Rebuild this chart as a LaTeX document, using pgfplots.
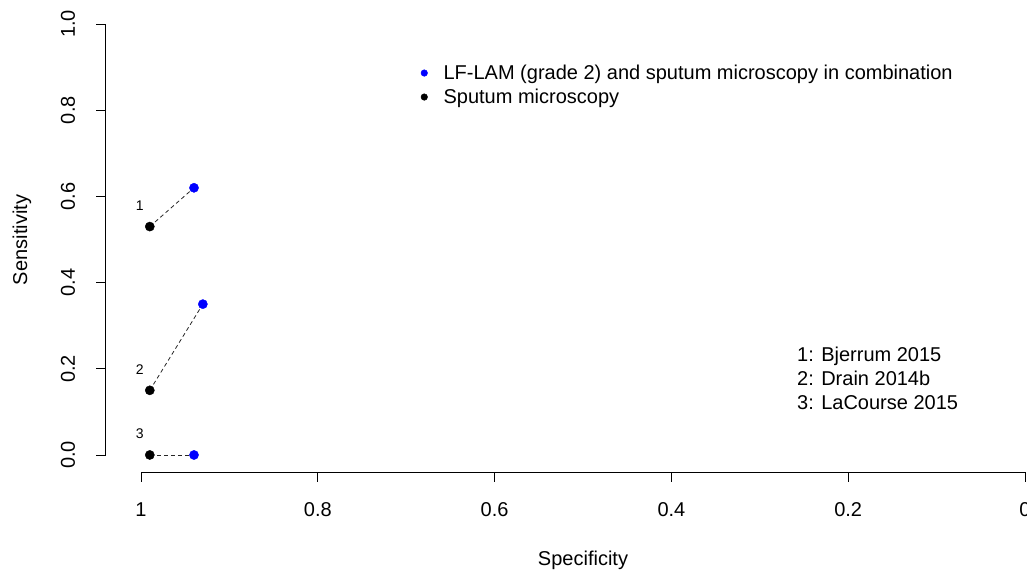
\documentclass[border=0pt]{standalone}
\usepackage{pgfplots}
\usepackage{pgfplotstable}
\pgfplotsset{compat=1.18}
\usepackage{fontspec}
\setmainfont{Liberation Sans}

% Sensitivity / specificity pairs per study
\pgfplotstableread{
spec sens label
0.99 0.53 1
0.99 0.15 2
0.99 0.00 3
}\smear
\pgfplotstableread{
spec sens
0.94 0.62
0.93 0.35
0.94 0.00
}\combo

\begin{document}
\begin{tikzpicture}[x=1pt,y=1pt]
\path[use as bounding box] (0,0) rectangle (1027,571);
\begin{axis}[
  at={(105.6pt,98.8pt)}, anchor=south west,
  width=954.8pt, height=465.4pt, scale only axis,
  xmin=-0.04, xmax=1.04, ymin=-0.04, ymax=1.04,
  x dir=reverse,
  hide axis, clip=false,
  legend style={at={(0.3301,0.877)}, anchor=north west, draw=none, fill=none,
    inner sep=0pt, outer sep=0pt, row sep=4pt, column sep=15.8pt,
    font=\fontsize{20}{24}\selectfont,
    nodes={inner sep=0pt, text height=15pt, text depth=5pt}},
  legend cell align=left,
]
% dashed links between the paired estimates of each study
\addplot[forget plot, black!85, dashed, dash pattern=on 4pt off 3pt, line width=0.8pt] coordinates {(0.99,0.53) (0.94,0.62)};
\addplot[forget plot, black!85, dashed, dash pattern=on 4pt off 3pt, line width=0.8pt] coordinates {(0.99,0.15) (0.93,0.35)};
\addplot[forget plot, black!85, dashed, dash pattern=on 4pt off 3pt, line width=0.8pt] coordinates {(0.99,0.00) (0.94,0.00)};

\addplot[only marks, mark=*, mark size=4.6pt, color=blue,
  legend image code/.code={\fill[blue] (0pt,1pt) circle (3.3pt);}]
  table[x=spec, y=sens] {\combo};
\addlegendentry{LF-LAM (grade 2) and sputum microscopy in combination}

\addplot[only marks, mark=*, mark size=4.6pt, color=black,
  nodes near coords, point meta=explicit symbolic,
  every node near coord/.append style={anchor=center, xshift=-10pt, yshift=21pt,
    font=\fontsize{14}{16}\selectfont, text=black},
  legend image code/.code={\fill[black] (0pt,1pt) circle (3.3pt);}]
  table[x=spec, y=sens, meta=label] {\smear};
\addlegendentry{Sputum microscopy}
\end{axis}

% axes drawn in the base-graphics style: lines span the tick range only
\draw[line width=0.9pt] (141,98.8) -- (1025,98.8);
\draw[line width=0.9pt] (105.6,116) -- (105.6,547);
\foreach \px/\lab in {141/1, 317.8/0.8, 494.6/0.6, 671.4/0.4, 848.2/0.2, 1025/0} {
  \draw[line width=0.9pt] (\px,98.8) -- (\px,88.8);
  \node[font=\fontsize{20}{24}\selectfont, anchor=center, inner sep=0pt] at (\px,61) {\lab};
}
\foreach \py/\lab in {116/0.0, 202.2/0.2, 288.4/0.4, 374.6/0.6, 460.8/0.8, 547/1.0} {
  \draw[line width=0.9pt] (105.6,\py) -- (95.6,\py);
  \node[font=\fontsize{20}{24}\selectfont, anchor=center, inner sep=0pt, rotate=90] at (68,\py) {\lab};
}
\node[font=\fontsize{20}{24}\selectfont, anchor=center, inner sep=0pt] at (583,11) {Specificity};
\node[font=\fontsize{20}{24}\selectfont, anchor=center, inner sep=0pt, rotate=90] at (22,331) {Sensitivity};

% study key
\node[font=\fontsize{20}{24}\selectfont, anchor=base west, inner sep=0pt] at (797,210) {1: Bjerrum 2015};
\node[font=\fontsize{20}{24}\selectfont, anchor=base west, inner sep=0pt] at (797,186) {2: Drain 2014b};
\node[font=\fontsize{20}{24}\selectfont, anchor=base west, inner sep=0pt] at (797,162) {3: LaCourse 2015};
\end{tikzpicture}
\end{document}
